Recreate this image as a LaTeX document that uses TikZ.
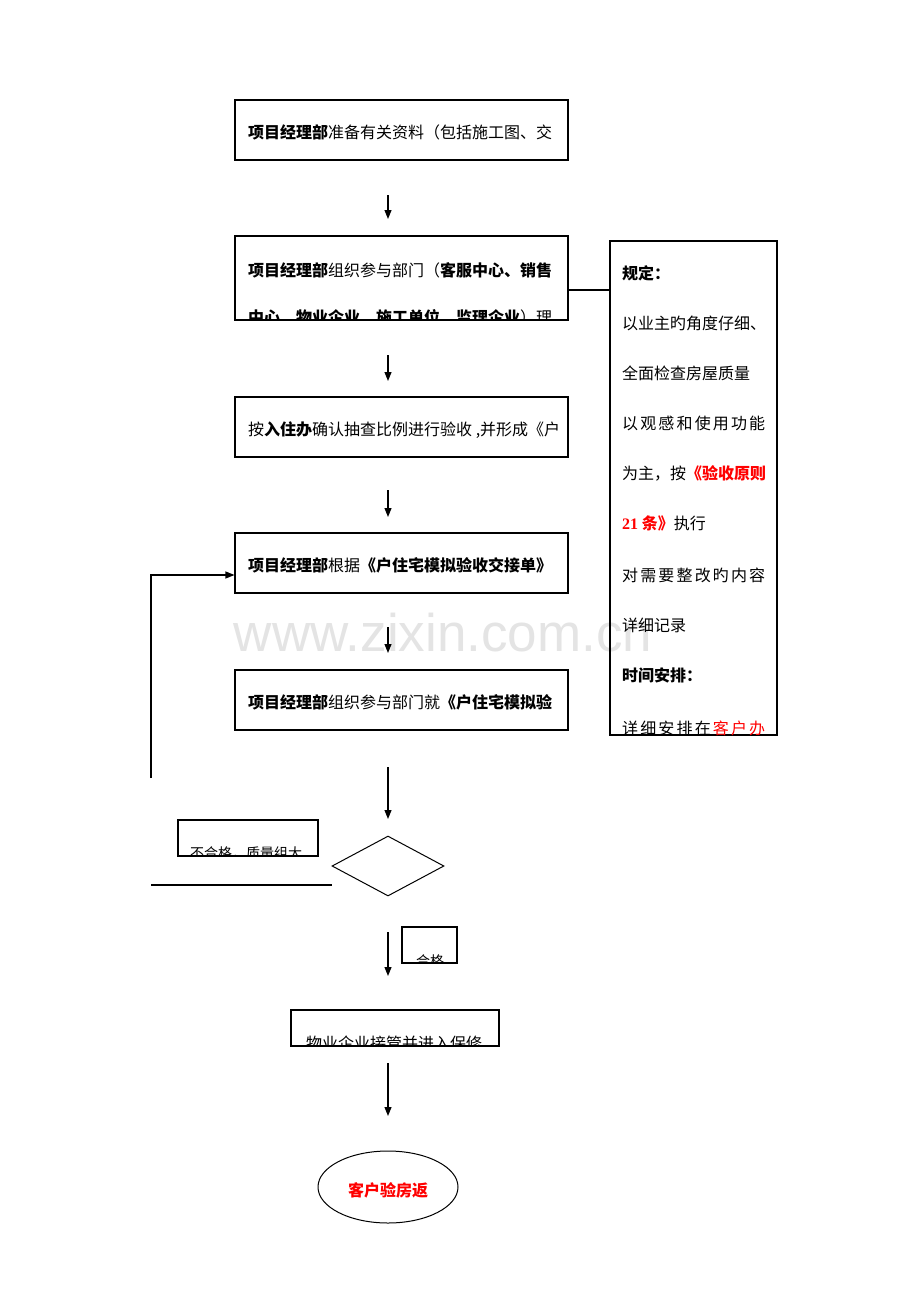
\documentclass[tikz,border=0pt]{standalone}
\usepackage{fontspec}
\setmainfont{Noto Sans CJK SC}
\newfontfamily\wmfont{Liberation Sans}
\newfontfamily\serifnum{Liberation Serif}
\usetikzlibrary{arrows.meta,shapes.geometric}
\definecolor{redtxt}{RGB}{255,0,0}
\definecolor{wmgray}{RGB}{228,228,228}
\begin{document}
\begin{tikzpicture}[x=1pt,y=-1pt,
  box/.style={draw, line width=1.1pt, inner sep=0pt},
  txt/.style={anchor=west, inner sep=0pt, font=\fontsize{16}{18}\selectfont},
  smalltxt/.style={anchor=west, inner sep=0pt, font=\fontsize{14}{16}\selectfont},
  arr/.style={line width=1.1pt, -{Triangle[length=9pt,width=7pt]}},
  conn/.style={line width=1.1pt}]
\useasboundingbox (0,0) rectangle (920,1302);
\fill[white] (0,0) rectangle (920,1302);
% watermark
\node[text=wmgray, font=\wmfont\fontsize{53}{60}\selectfont, inner sep=0pt] (wm) at (443,633) {www.zixin.com.cn};

% boxes
\node[box, minimum width=333pt, minimum height=60pt] (b1) at (401.5,130) {};
\node[txt] (t1) at (248,132) {\textbf{项目经理部}准备有关资料（包括施工图、交};

\node[box, minimum width=333pt, minimum height=84pt] (b2) at (401.5,278) {};
\begin{scope}
\clip (b2.north west) rectangle (b2.south east);
\node[txt] (t2a) at (248,270) {\textbf{项目经理部}组织参与部门（\textbf{客服中心、销售}};
\node[txt] (t2b) at (248,317) {\textbf{中心、物业企业、施工单位、监理企业}）理};
\end{scope}

\node[box, minimum width=333pt, minimum height=60pt] (b3) at (401.5,427) {};
\node[txt] (t3) at (248,430) {按\textbf{入住办}确认抽查比例进行验收 ,并形成《户};

\node[box, minimum width=333pt, minimum height=60pt] (b4) at (401.5,563) {};
\node[txt] (t4) at (248,565) {\textbf{项目经理部}根据\textbf{《户住宅模拟验收交接单》}};

\node[box, minimum width=333pt, minimum height=60pt] (b5) at (401.5,700) {};
\node[txt] (t5) at (248,702) {\textbf{项目经理部}组织参与部门就\textbf{《户住宅模拟验}};

% rules box
\node[box, minimum width=167pt, minimum height=494pt] (r) at (693.5,488) {};
\begin{scope}
\clip (r.north west) rectangle (r.south east);
\node[txt] (r1) at (622,273) {\textbf{规定：}};
\node[txt] (r2) at (622,323) {以业主旳角度仔细、};
\node[txt] (r3) at (622,373) {全面检查房屋质量};
\node[txt] (r4) at (622,423) {\makebox[143pt][l]{以\hfill 观\hfill 感\hfill 和\hfill 使\hfill 用\hfill 功\hfill 能}};
\node[txt] (r5) at (622,473) {为主，按\textcolor{redtxt}{\textbf{《验收原则}}};
\node[txt] (r6) at (622,523) {\textcolor{redtxt}{\textbf{{\serifnum\bfseries 21} 条》}}执行};
\node[txt] (r7) at (622,575) {\makebox[143pt][l]{对\hfill 需\hfill 要\hfill 整\hfill 改\hfill 旳\hfill 内\hfill 容}};
\node[txt] (r8) at (622,625) {详细记录};
\node[txt] (r9) at (622,675) {\textbf{时间安排：}};
\node[txt] (r10) at (622,728) {\makebox[143pt][l]{详\hfill 细\hfill 安\hfill 排\hfill 在\hfill \textcolor{redtxt}{客}\hfill \textcolor{redtxt}{户}\hfill \textcolor{redtxt}{办}}};
\end{scope}

% connector box2 - rules
\draw[conn] (b2.east |- 0,290) -- (r.west |- 0,290);

% vertical arrows
\coordinate (a1s) at (388,195); \coordinate (a1e) at (388,219);
\draw[arr] (a1s) -- (a1e);
\coordinate (a2s) at (388,355); \coordinate (a2e) at (388,381);
\draw[arr] (a2s) -- (a2e);
\coordinate (a3s) at (388,490); \coordinate (a3e) at (388,517);
\draw[arr] (a3s) -- (a3e);
\coordinate (a4s) at (388,627); \coordinate (a4e) at (388,653);
\draw[arr] (a4s) -- (a4e);
\coordinate (a5s) at (388,767); \coordinate (a5e) at (388,819);
\draw[arr] (a5s) -- (a5e);

% diamond
\node[draw, line width=1pt, diamond, aspect=1.87, minimum width=112pt, minimum height=60pt, inner sep=0pt] (d) at (388,866) {};

% fail box
\node[box, minimum width=140pt, minimum height=36pt] (nf) at (248,838) {};
\begin{scope}
\clip (nf.north west) rectangle (nf.south east);
\node[smalltxt] (tnf) at (190,853) {不合格，质量组大};
\end{scope}

% feedback lines
\coordinate (fl1) at (151,885); \coordinate (fl2) at (332,885);
\draw[conn] (fl1) -- (fl2);
\coordinate (fb1) at (151,778); \coordinate (fb2) at (151,575);
\draw[arr] (fb1) -- (fb2) -- (b4.west |- fb2);

% pass
\coordinate (a6s) at (388,932); \coordinate (a6e) at (388,976);
\draw[arr] (a6s) -- (a6e);
\node[box, minimum width=55pt, minimum height=36pt] (ok) at (429.5,945) {};
\begin{scope}
\clip (ok.north west) rectangle (ok.south east);
\node[smalltxt] (tok) at (416,961) {合格};
\end{scope}

\node[box, minimum width=208pt, minimum height=36pt] (b6) at (395,1028) {};
\begin{scope}
\clip (b6.north west) rectangle (b6.south east);
\node[txt] (t6) at (306,1043) {物业企业接管并进入保修};
\end{scope}

\coordinate (a7s) at (388,1063); \coordinate (a7e) at (388,1116);
\draw[arr] (a7s) -- (a7e);

\node[draw, line width=1pt, ellipse, minimum width=140pt, minimum height=72pt, inner sep=0pt] (e) at (388,1187) {};
\node[inner sep=0pt, text=redtxt, font=\fontsize{16}{18}\selectfont\bfseries] (te) at (388,1190) {客户验房返};
\end{tikzpicture}
\end{document}
